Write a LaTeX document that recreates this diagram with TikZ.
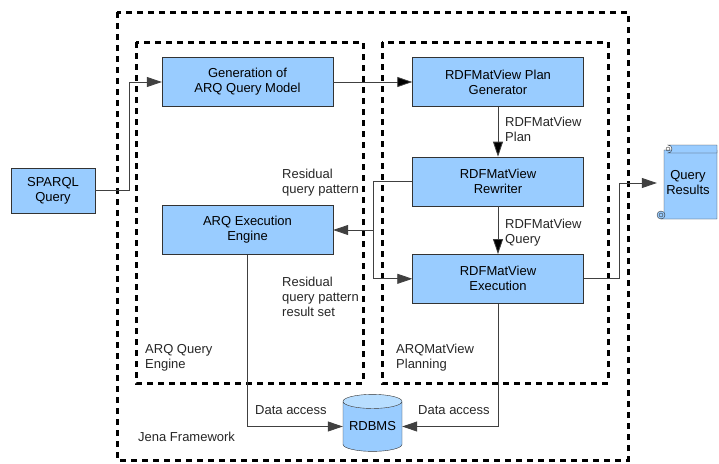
\documentclass[tikz,border=0pt]{standalone}
\usepackage{fontspec}
\setmainfont{Liberation Sans}
\usetikzlibrary{positioning, arrows.meta, shapes.geometric}

\definecolor{boxblue}{HTML}{99CCFF}
\definecolor{topblue}{HTML}{B8DEFF}

\tikzset{
	box/.style={draw=black!80, fill=boxblue, minimum width=171pt, minimum height=49pt, align=center, inner sep=2pt},
	frame/.style={line width=3pt, dash pattern=on 6pt off 5pt},
	lbl/.style={anchor=west, align=left, inner sep=0pt, text=black!85},
	arr/.style={draw=black!75, line width=0.8pt, -{Triangle[length=15pt,width=10pt]}},
}

\begin{document}
\begin{tikzpicture}[x=1pt, y=-1pt, font=\fontsize{13}{15}\selectfont]
	\useasboundingbox (0,0) rectangle (719,463);

	\draw[frame] (117,12) rectangle (628,460);
	\draw[frame] (136,42) rectangle (363,383);
	\draw[frame] (382,42) rectangle (608,383);

	\node[box, minimum width=84pt, minimum height=45pt] (sparql) at (53,190.5) {SPARQL\\Query};
	\node[box] (gen) at (247.5,82) {Generation of\\ARQ Query Model};
	\node[box] (plan) at (498,82) {RDFMatView Plan\\Generator};
	\node[box, below=50pt of plan] (rew) {RDFMatView\\Rewriter};
	\node[box, below=48pt of rew] (exec) {RDFMatView\\Execution};
	\node[box] (engine) at (247.5,230) {ARQ Execution\\Engine};
	\node[cylinder, shape border rotate=90, aspect=0.3, draw=black!80, cylinder uses custom fill,
		cylinder body fill=boxblue, cylinder end fill=topblue, minimum width=59pt, minimum height=57pt,
		inner sep=0pt] (rdbms) at (372.5,426.5) {RDBMS};

	\filldraw[draw=black!80, fill=boxblue] (664,150) -- (664,216) -- (661,219) -- (717,219) -- (717,150) -- cycle;
	\filldraw[draw=black!80, fill=boxblue] (668,145) -- (717,145) -- (717,153) -- (668,153) arc (90:270:-4pt) -- cycle;
	\draw[black!80] (668,149) circle (2pt);
	\filldraw[draw=black!80, fill=boxblue] (661,215) circle (4pt);
	\draw[black!80] (661,215) circle (2pt);
	\node[minimum width=62pt, minimum height=76pt, inner sep=0pt, align=center] (results) at (688,183) {Query\\Results};

	\node[lbl] (planlbl) at (505,129.5) {RDFMatView\\Plan};
	\node[lbl] (querylbl) at (505,232.5) {RDFMatView\\Query};
	\node[lbl] (resid) at (282,183) {Residual\\query pattern};
	\node[lbl] (residset) at (282,297) {Residual\\query pattern\\result set};
	\node[lbl] (arqlbl) at (145,357.5) {ARQ Query\\Engine};
	\node[lbl] (planninglbl) at (396,357.5) {ARQMatView\\Planning};
	\node[lbl] (jena) at (138,437) {Jena Framework};
	\node[lbl] (access1) at (255,410) {Data access};
	\node[lbl] (access2) at (418,410) {Data access};

	\coordinate (inx) at (129,0);
	\coordinate (split) at (373,0);
	\coordinate (outx) at (619,0);

	\draw[arr] (sparql.east) -- (sparql.east -| inx) |- (gen.west);
	\draw[arr]
		(gen) edge (plan)
		(plan) edge (rew)
		(rew) edge (exec)
		;
	\draw[arr] (rew.west) -- (rew.west -| split) |- (exec.west);
	\draw[arr] (engine.east -| split) -- (engine.east);
	\draw[arr] (exec.east) -- (exec.east -| outx) |- (results.west);
	\draw[arr] (engine.south) |- (rdbms.west);
	\draw[arr] (exec.south) |- (rdbms.east);
\end{tikzpicture}
\end{document}
